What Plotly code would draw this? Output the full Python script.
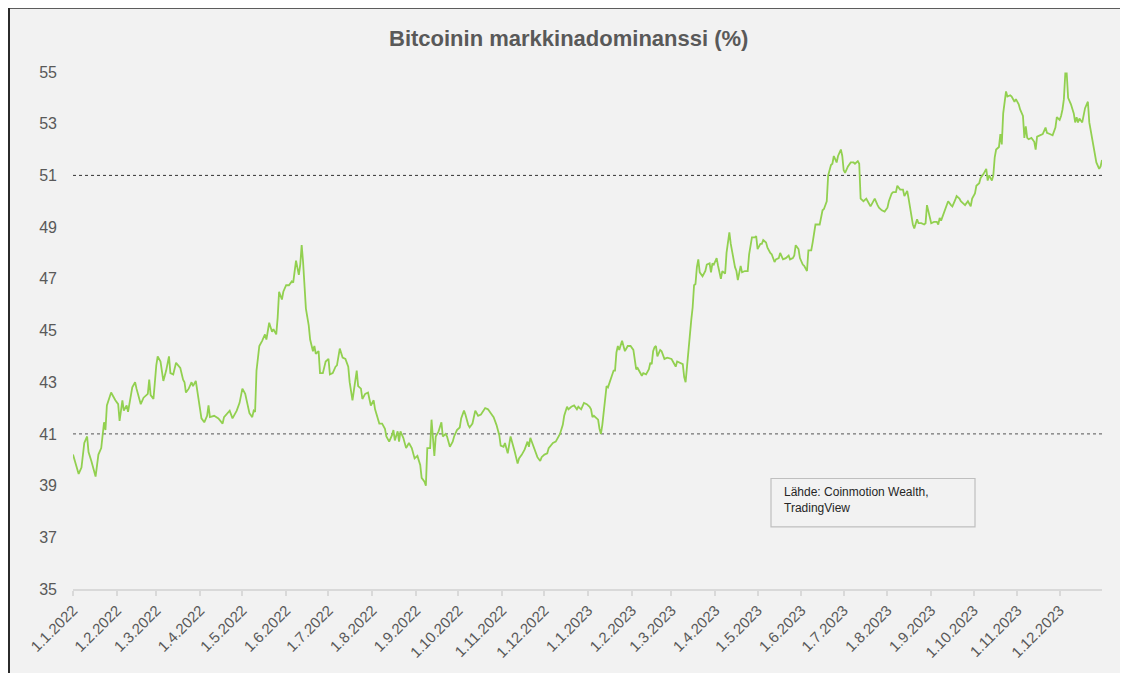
import plotly.graph_objects as go

# ---------------- data ----------------
dates_2022 = [
    "2022-01-01", "2022-01-05", "2022-01-07", "2022-01-09", "2022-01-11", "2022-01-12", "2022-01-14", "2022-01-17",
    "2022-01-19", "2022-01-21", "2022-01-23", "2022-01-24", "2022-01-25", "2022-01-28", "2022-01-31",
    "2022-02-02", "2022-02-03", "2022-02-05", "2022-02-06", "2022-02-08", "2022-02-09", "2022-02-10", "2022-02-12",
    "2022-02-14", "2022-02-15", "2022-02-18", "2022-02-20", "2022-02-23", "2022-02-24", "2022-02-25", "2022-02-27",
    "2022-03-01", "2022-03-02", "2022-03-04", "2022-03-06", "2022-03-08", "2022-03-10", "2022-03-11", "2022-03-13",
    "2022-03-15", "2022-03-18", "2022-03-20", "2022-03-21", "2022-03-22", "2022-03-24", "2022-03-26", "2022-03-27",
    "2022-03-29", "2022-03-31",
    "2022-04-02", "2022-04-04", "2022-04-06", "2022-04-07", "2022-04-08", "2022-04-11", "2022-04-14", "2022-04-17",
    "2022-04-18", "2022-04-22", "2022-04-24", "2022-04-27", "2022-04-29",
    "2022-05-01", "2022-05-03", "2022-05-06", "2022-05-08", "2022-05-09", "2022-05-10", "2022-05-11", "2022-05-13",
    "2022-05-15", "2022-05-17", "2022-05-18", "2022-05-20", "2022-05-22", "2022-05-23", "2022-05-25", "2022-05-26",
    "2022-05-27", "2022-05-29", "2022-05-30",
    "2022-06-01", "2022-06-03", "2022-06-05", "2022-06-06", "2022-06-08", "2022-06-10", "2022-06-11", "2022-06-12",
    "2022-06-13", "2022-06-15", "2022-06-17", "2022-06-18", "2022-06-20", "2022-06-21", "2022-06-22", "2022-06-24",
    "2022-06-25", "2022-06-27", "2022-06-28", "2022-06-29",
    "2022-07-01", "2022-07-02", "2022-07-04", "2022-07-06", "2022-07-07", "2022-07-09", "2022-07-11", "2022-07-13",
    "2022-07-15", "2022-07-16", "2022-07-18", "2022-07-20", "2022-07-21", "2022-07-22", "2022-07-24", "2022-07-25",
    "2022-07-27", "2022-07-29", "2022-07-31",
    "2022-08-02", "2022-08-03", "2022-08-06", "2022-08-08", "2022-08-10", "2022-08-11", "2022-08-13", "2022-08-15",
    "2022-08-16", "2022-08-17", "2022-08-19", "2022-08-20", "2022-08-21", "2022-08-23", "2022-08-25", "2022-08-27",
    "2022-08-29", "2022-08-31",
    "2022-09-02", "2022-09-04", "2022-09-05", "2022-09-07", "2022-09-08", "2022-09-09", "2022-09-11", "2022-09-12",
    "2022-09-13", "2022-09-14", "2022-09-15", "2022-09-17", "2022-09-19", "2022-09-20", "2022-09-22", "2022-09-23",
    "2022-09-25", "2022-09-27", "2022-09-28", "2022-09-30",
    "2022-10-02", "2022-10-03", "2022-10-05", "2022-10-06", "2022-10-08", "2022-10-09", "2022-10-11", "2022-10-13",
    "2022-10-15", "2022-10-17", "2022-10-20", "2022-10-22", "2022-10-24", "2022-10-26", "2022-10-28", "2022-10-30",
    "2022-10-31",
    "2022-11-02", "2022-11-03", "2022-11-05", "2022-11-07", "2022-11-09", "2022-11-10", "2022-11-12", "2022-11-13",
    "2022-11-15", "2022-11-17", "2022-11-19", "2022-11-20", "2022-11-21", "2022-11-23", "2022-11-25", "2022-11-26",
    "2022-11-28", "2022-11-29",
    "2022-12-01", "2022-12-03", "2022-12-04", "2022-12-07", "2022-12-09", "2022-12-11", "2022-12-12", "2022-12-14",
    "2022-12-15", "2022-12-17", "2022-12-18", "2022-12-20", "2022-12-22", "2022-12-24", "2022-12-25", "2022-12-27",
    "2022-12-29", "2022-12-31",
]
dominance_2022 = [
    40.2, 39.45, 39.7, 40.65, 40.9, 40.3, 39.95, 39.35,
    40.2, 40.45, 41.45, 41.15, 42.1, 42.6, 42.3,
    42.15, 41.5, 42.3, 41.9, 42.1, 41.85, 42.2, 42.8,
    43.0, 42.75, 42.15, 42.4, 42.55, 43.1, 42.5, 42.35,
    43.65, 44.0, 43.8, 43.05, 43.45, 44.0, 43.35, 43.3,
    43.75, 43.55, 43.1, 43.0, 42.6, 42.75, 43.0, 42.85,
    43.05, 42.35,
    41.6, 41.45, 41.7, 42.1, 41.65, 41.7, 41.6, 41.4,
    41.65, 41.9, 41.6, 41.9, 42.2,
    42.75, 42.55, 41.8, 41.65, 41.9, 41.85, 43.45, 44.4,
    44.6, 44.85, 44.65, 45.3, 44.95, 45.05, 44.85, 45.5,
    46.5, 46.2, 46.5,
    46.75, 46.75, 46.9, 46.85, 47.7, 47.15, 47.55, 48.3,
    47.65, 45.85, 45.2, 44.65, 44.2, 44.4, 44.1, 44.2,
    43.35, 43.35, 43.55, 43.8,
    43.9, 43.3, 43.35, 43.6, 43.65, 44.3, 43.95, 43.9,
    43.6, 43.0, 42.3, 43.0, 43.45, 42.85, 42.75, 42.35,
    42.55, 42.6, 42.1,
    42.3, 41.95, 41.4, 41.4, 41.2, 40.9, 40.7, 40.95,
    41.15, 40.75, 41.1, 40.7, 41.1, 40.85, 40.45, 40.65,
    40.45, 40.05,
    40.15, 39.8, 39.3, 39.15, 39.0, 40.45, 40.45, 41.55,
    40.85, 40.15, 40.9, 41.1, 41.45, 40.9, 41.0, 40.9,
    40.5, 40.7, 40.9, 41.15,
    41.25, 41.6, 41.9, 41.75, 41.35, 41.25, 41.4, 41.9,
    41.7, 41.75, 42.0, 41.95, 41.8, 41.65, 41.35, 40.95,
    40.55,
    40.5, 40.65, 40.25, 40.9, 40.55, 40.3, 39.85, 40.05,
    40.2, 40.4, 40.7, 40.5, 40.85, 40.55, 40.3, 40.1,
    39.95, 40.1,
    40.2, 40.25, 40.45, 40.65, 40.7, 40.9, 41.0, 41.35,
    41.7, 42.05, 41.95, 42.05, 42.1, 41.95, 42.05, 41.95,
    42.2, 42.15,
]

dates_2023 = [
    "2023-01-02", "2023-01-03", "2023-01-04", "2023-01-05", "2023-01-07", "2023-01-08", "2023-01-09", "2023-01-10",
    "2023-01-11", "2023-01-13", "2023-01-14", "2023-01-15", "2023-01-17", "2023-01-19", "2023-01-20", "2023-01-21",
    "2023-01-22", "2023-01-23", "2023-01-25", "2023-01-26", "2023-01-27", "2023-01-29", "2023-01-31",
    "2023-02-02", "2023-02-04", "2023-02-05", "2023-02-06", "2023-02-08", "2023-02-09", "2023-02-11", "2023-02-13",
    "2023-02-14", "2023-02-15", "2023-02-16", "2023-02-17", "2023-02-18", "2023-02-19", "2023-02-21", "2023-02-22",
    "2023-02-24", "2023-02-26",
    "2023-03-01", "2023-03-02", "2023-03-04", "2023-03-05", "2023-03-07", "2023-03-09", "2023-03-10", "2023-03-11",
    "2023-03-12", "2023-03-13", "2023-03-14", "2023-03-15", "2023-03-16", "2023-03-17", "2023-03-18", "2023-03-19",
    "2023-03-20", "2023-03-21", "2023-03-23", "2023-03-25", "2023-03-26", "2023-03-28", "2023-03-29", "2023-03-30",
    "2023-03-31",
    "2023-04-02", "2023-04-03", "2023-04-04", "2023-04-05", "2023-04-06", "2023-04-08", "2023-04-09", "2023-04-11",
    "2023-04-12", "2023-04-14", "2023-04-15", "2023-04-16", "2023-04-17", "2023-04-19", "2023-04-20", "2023-04-22",
    "2023-04-24", "2023-04-25", "2023-04-27", "2023-04-29", "2023-04-30",
    "2023-05-01", "2023-05-03", "2023-05-04", "2023-05-05", "2023-05-07", "2023-05-08", "2023-05-10", "2023-05-11",
    "2023-05-13", "2023-05-14", "2023-05-16", "2023-05-17", "2023-05-19", "2023-05-21", "2023-05-23", "2023-05-24",
    "2023-05-26", "2023-05-27", "2023-05-28", "2023-05-30", "2023-05-31",
    "2023-06-02", "2023-06-03", "2023-06-05", "2023-06-06", "2023-06-08", "2023-06-09", "2023-06-11", "2023-06-13",
    "2023-06-14", "2023-06-16", "2023-06-17", "2023-06-19", "2023-06-20", "2023-06-22", "2023-06-23", "2023-06-24",
    "2023-06-26", "2023-06-27", "2023-06-29", "2023-06-30",
    "2023-07-01", "2023-07-02", "2023-07-04", "2023-07-06", "2023-07-08", "2023-07-09", "2023-07-11", "2023-07-12",
    "2023-07-13", "2023-07-15", "2023-07-17", "2023-07-18", "2023-07-20", "2023-07-21", "2023-07-23", "2023-07-25",
    "2023-07-26", "2023-07-28", "2023-07-30",
    "2023-08-01", "2023-08-02", "2023-08-04", "2023-08-05", "2023-08-07", "2023-08-08", "2023-08-10", "2023-08-12",
    "2023-08-13", "2023-08-15", "2023-08-16", "2023-08-18", "2023-08-19", "2023-08-20", "2023-08-22", "2023-08-23",
    "2023-08-25", "2023-08-27", "2023-08-28", "2023-08-29", "2023-08-31",
    "2023-09-01", "2023-09-03", "2023-09-05", "2023-09-06", "2023-09-07", "2023-09-08", "2023-09-09", "2023-09-11",
    "2023-09-13", "2023-09-15", "2023-09-16", "2023-09-18", "2023-09-19", "2023-09-21", "2023-09-22", "2023-09-24",
    "2023-09-25", "2023-09-27", "2023-09-29", "2023-09-30",
    "2023-10-02", "2023-10-03", "2023-10-05", "2023-10-06", "2023-10-08", "2023-10-10", "2023-10-11", "2023-10-12",
    "2023-10-14", "2023-10-15", "2023-10-16", "2023-10-17", "2023-10-19", "2023-10-20", "2023-10-21", "2023-10-22",
    "2023-10-24", "2023-10-25", "2023-10-27", "2023-10-28", "2023-10-30", "2023-10-31",
    "2023-11-02", "2023-11-03", "2023-11-05", "2023-11-06", "2023-11-07", "2023-11-08", "2023-11-09", "2023-11-11",
    "2023-11-13", "2023-11-14", "2023-11-15", "2023-11-17", "2023-11-19", "2023-11-21", "2023-11-22", "2023-11-24",
    "2023-11-26", "2023-11-28", "2023-11-29",
    "2023-12-01", "2023-12-02", "2023-12-03", "2023-12-04", "2023-12-05", "2023-12-06", "2023-12-07", "2023-12-09",
    "2023-12-11", "2023-12-12", "2023-12-13", "2023-12-14", "2023-12-15", "2023-12-17", "2023-12-19", "2023-12-21",
    "2023-12-22", "2023-12-24", "2023-12-25", "2023-12-27", "2023-12-29", "2023-12-30", "2023-12-31",
]
dominance_2023 = [
    42.05, 41.95, 41.65, 41.7, 41.6, 41.55, 41.2, 41.0,
    41.35, 42.2, 42.85, 42.8, 43.1, 43.45, 43.45, 44.15,
    44.4, 44.25, 44.6, 44.35, 44.2, 44.4, 44.4,
    44.25, 43.5, 43.55, 43.45, 43.25, 43.35, 43.3, 43.5,
    43.75, 43.7, 44.2, 44.35, 44.4, 44.0, 44.25, 44.2,
    43.9, 43.95,
    43.9, 43.8, 43.6, 43.8, 43.75, 43.7, 43.2, 43.0,
    43.6, 44.25, 44.95, 45.4, 45.9, 46.75, 46.8, 47.45,
    47.75, 47.25, 47.1, 47.3, 47.55, 47.6, 47.25, 47.6,
    47.55,
    47.8, 47.5, 47.3, 47.0, 47.3, 47.2, 48.0, 48.8,
    48.35, 47.65, 47.45, 47.3, 46.95, 47.5, 47.25, 47.3,
    47.3, 47.95, 48.6, 48.6, 48.65,
    48.15, 48.35, 48.35, 48.5, 48.4, 48.2, 48.0, 47.95,
    47.65, 47.75, 47.8, 48.0, 47.75, 47.8, 47.9, 47.75,
    47.8, 47.9, 48.3, 48.15, 47.8,
    47.55, 47.5, 47.3, 48.1, 48.1, 48.4, 49.1, 49.1,
    49.1, 49.65, 49.7, 50.0, 51.0, 51.4, 51.45, 51.75,
    51.5, 51.75, 52.0, 51.75,
    51.2, 51.1, 51.35, 51.5, 51.5, 51.45, 51.55, 51.45,
    50.1, 50.0, 50.1, 50.0, 49.8, 49.9, 50.1, 49.85,
    49.75, 49.65, 49.6,
    49.75, 50.0, 50.3, 50.35, 50.35, 50.6, 50.45, 50.45,
    50.2, 50.4, 50.1, 49.35, 49.1, 48.95, 49.3, 49.15,
    49.15, 49.1, 49.15, 49.85, 49.35,
    49.15, 49.2, 49.2, 49.1, 49.35, 49.25, 49.4, 49.75,
    50.0, 49.85, 49.8, 50.05, 50.2, 50.1, 50.0, 49.9,
    49.85, 50.0, 49.8, 50.1,
    50.3, 50.6, 50.7, 50.9, 51.05, 51.25, 50.8, 51.0,
    50.8, 51.0, 51.7, 52.0, 52.1, 52.6, 52.2, 53.4,
    54.25, 54.05, 54.1, 54.05, 53.85, 53.95,
    53.75, 53.55, 53.3, 52.45, 52.9, 52.45, 52.4, 52.45,
    52.3, 52.0, 52.5, 52.55, 52.6, 52.85, 52.65, 52.6,
    52.55, 52.85, 53.25,
    53.15, 53.3, 53.55, 53.95, 54.95, 54.95, 54.0, 53.75,
    53.4, 53.05, 53.25, 53.05, 53.2, 53.05, 53.6, 53.85,
    53.05, 52.4, 52.0, 51.5, 51.25, 51.35, 51.6,
]

reference_levels = [41, 51]
y_ticks = [35, 37, 39, 41, 43, 45, 47, 49, 51, 53, 55]
title_text = "<b>Bitcoinin markkinadominanssi (%)</b>"
source_text = "Lähde: Coinmotion Wealth,<br>TradingView"

dates = dates_2022 + dates_2023
dominance = dominance_2022 + dominance_2023

# ---------------- layout geometry ----------------
# The page body adds an 8 px margin; work in page pixels and shift.
OFF = 8
W, H = 1120, 665
PLOT_L, PLOT_R, PLOT_T, PLOT_B = 73, 1102, 72, 596   # page pixels
ML, MT = PLOT_L - OFF, PLOT_T - OFF
MR = W - (PLOT_R - OFF)
MB = H - (PLOT_B - OFF)
PW, PH = PLOT_R - PLOT_L, PLOT_B - PLOT_T


def px_x(px):
    return (px - PLOT_L) / PW


def px_y(py):
    return (PLOT_B - py) / PH


FONT = "Liberation Sans, Arial, sans-serif"
GREY_TXT = "#595959"

fig = go.Figure()
fig.add_trace(go.Scatter(
    x=dates, y=dominance, mode="lines",
    line=dict(color="#92d050", width=1.8),
    hoverinfo="x+y", showlegend=False,
))

shapes = [
    # outer frame with grey background
    dict(type="rect", xref="paper", yref="paper",
         x0=px_x(9), x1=px_x(1126), y0=px_y(720), y1=px_y(7),
         fillcolor="#f2f2f2", line=dict(color="#2b2b2b", width=2), layer="below"),
    # source box
    dict(type="rect", xref="paper", yref="paper",
         x0=px_x(771), x1=px_x(975), y0=px_y(533), y1=px_y(484),
         fillcolor="#f2f2f2", line=dict(color="#bfbfbf", width=1.2), layer="above"),
]
for lvl, col in zip(reference_levels, ["#555555", "#333333"]):
    shapes.append(dict(type="line", xref="x", yref="y",
                       x0="2022-01-01", x1="2023-12-31", y0=lvl, y1=lvl,
                       line=dict(color=col, width=1, dash="3px,3px"), layer="below"))

fig.update_layout(
    width=W, height=H,
    margin=dict(l=ML, r=MR, t=MT, b=MB),
    paper_bgcolor="white",
    plot_bgcolor="rgba(0,0,0,0)",
    font=dict(family=FONT, color=GREY_TXT),
    shapes=shapes,
    showlegend=False,
    annotations=[
        dict(text=title_text, xref="paper", yref="paper",
             x=px_x(568), y=px_y(38), xanchor="center", yanchor="middle",
             showarrow=False, font=dict(size=22, color="#595959", family=FONT)),
        dict(text=source_text, xref="paper", yref="paper",
             x=px_x(782), y=px_y(506), xanchor="left", yanchor="middle", align="left",
             showarrow=False, font=dict(size=12, color="#262626", family=FONT)),
    ],
    xaxis=dict(
        type="date",
        range=["2022-01-01", "2023-12-31"],
        tick0="2022-01-01", dtick="M1",
        tickformat="%-d.%-m.%Y", tickangle=-45,
        tickfont=dict(size=15, color=GREY_TXT),
        showgrid=False, zeroline=False,
        showline=True, linecolor="#d9d9d9", linewidth=1.5,
        ticks="outside", ticklen=5, tickcolor="#d9d9d9", tickwidth=1.5,
    ),
    yaxis=dict(
        range=[35, 55],
        tickvals=y_ticks,
        tickfont=dict(size=16, color=GREY_TXT),
        showgrid=False, zeroline=False, showline=False,
        ticks="", ticklabelstandoff=15,
    ),
)

fig.write_html("out.html")
